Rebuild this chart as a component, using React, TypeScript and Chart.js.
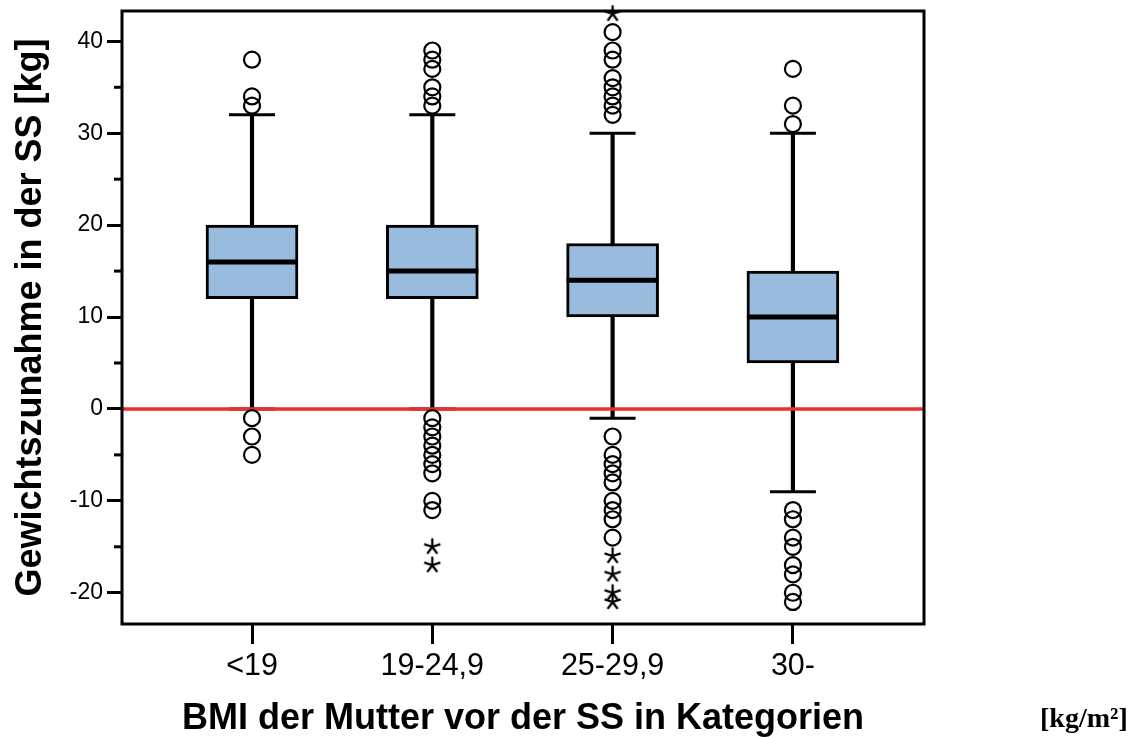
import React, { useEffect, useRef } from "react";
import { Chart, registerables } from "chart.js";

Chart.register(...registerables);

// ---- data ----
const categories = ["<19", "19-24,9", "25-29,9", "30-"];
const q1 = [12, 12, 10, 5];
const median = [16, 15, 14, 10];
const q3 = [20, 20, 18, 15];
const whiskerLow = [0, 0, -1, -9];
const whiskerHigh = [32, 32, 30, 30];

const outliersLt19 = [38, 34, 33, -1, -3, -5];
const outliers19to249 = [39, 38, 37, 35, 34, 33, -1, -2, -3, -4, -5, -6, -7, -10, -11];
const outliers25to299 = [41, 39, 38, 36, 35, 34, 33, 32, -3, -5, -6, -7, -8, -10, -11, -12, -14];
const outliers30plus = [37, 33, 31, -11, -12, -14, -15, -17, -18, -20, -21];

const extremesLt19: number[] = [];
const extremes19to249 = [-15, -17];
const extremes25to299 = [43, -16, -18, -20, -21];
const extremes30plus: number[] = [];

const yMajorTicks = [-20, -10, 0, 10, 20, 30, 40];
const yMinorTicks = [-15, -5, 5, 15, 25, 35];
const yMin = -23.4;
const yMax = 43.3;
const referenceValue = 0;

const yTitle = "Gewichtszunahme in der SS [kg]";
const xTitle = "BMI der Mutter vor der SS in Kategorien";
const unitLabel = "[kg/m²]";

const outlierGroups = [outliersLt19, outliers19to249, outliers25to299, outliers30plus];
const extremeGroups = [extremesLt19, extremes19to249, extremes25to299, extremes30plus];

const BOX_WIDTH = 92;
const CAP_WIDTH = 46;
const FONT = "'Liberation Sans', Arial, sans-serif";

function makeStar(): HTMLCanvasElement {
  const c = document.createElement("canvas");
  c.width = 20;
  c.height = 20;
  const g = c.getContext("2d")!;
  g.strokeStyle = "#000";
  g.lineWidth = 2.3;
  g.lineCap = "butt";
  g.beginPath();
  for (let k = 0; k < 5; k++) {
    const a = -Math.PI / 2 + (k * 2 * Math.PI) / 5;
    g.moveTo(10, 10);
    g.lineTo(10 + Math.cos(a) * 8.5, 10 + Math.sin(a) * 8.5);
  }
  g.stroke();
  return c;
}

const extrasPlugin = {
  id: "boxExtras",
  afterDatasetDraw(chart: any, args: any) {
    if (args.index !== 1) return;
    const { ctx, chartArea, scales } = chart;
    const x = scales.x;
    const y = scales.y;
    ctx.save();
    ctx.strokeStyle = "#000";
    // medians
    ctx.lineWidth = 5;
    categories.forEach((_, i) => {
      const cx = x.getPixelForValue(i + 1);
      const py = y.getPixelForValue(median[i]);
      ctx.beginPath();
      ctx.moveTo(cx - BOX_WIDTH / 2, py);
      ctx.lineTo(cx + BOX_WIDTH / 2, py);
      ctx.stroke();
    });
    // whisker caps
    ctx.lineWidth = 3;
    categories.forEach((_, i) => {
      const cx = x.getPixelForValue(i + 1);
      [whiskerLow[i], whiskerHigh[i]].forEach((v) => {
        const py = y.getPixelForValue(v);
        ctx.beginPath();
        ctx.moveTo(cx - CAP_WIDTH / 2, py);
        ctx.lineTo(cx + CAP_WIDTH / 2, py);
        ctx.stroke();
      });
    });
    // reference line
    const ry = y.getPixelForValue(referenceValue);
    ctx.strokeStyle = "#e8312e";
    ctx.lineWidth = 3.6;
    ctx.beginPath();
    ctx.moveTo(chartArea.left, ry);
    ctx.lineTo(chartArea.right, ry);
    ctx.stroke();
    ctx.restore();
  },
  afterDraw(chart: any) {
    const { ctx, chartArea, scales } = chart;
    ctx.save();
    ctx.strokeStyle = "#000";
    // minor y ticks
    ctx.lineWidth = 3;
    yMinorTicks.forEach((v) => {
      const py = scales.y.getPixelForValue(v);
      ctx.beginPath();
      ctx.moveTo(chartArea.left - 8, py);
      ctx.lineTo(chartArea.left, py);
      ctx.stroke();
    });
    // frame
    ctx.lineWidth = 3;
    ctx.strokeRect(chartArea.left, chartArea.top, chartArea.right - chartArea.left, chartArea.bottom - chartArea.top);
    ctx.restore();
  },
};

export default function App() {
  const ref = useRef<HTMLCanvasElement | null>(null);

  useEffect(() => {
    if (!ref.current) return;
    const star = makeStar();
    const datasets: any[] = [
      {
        type: "bar",
        label: "whiskers",
        data: categories.map((_, i) => ({ x: i + 1, y: [whiskerLow[i], whiskerHigh[i]] })),
        backgroundColor: "#000",
        borderWidth: 0,
        barThickness: 3.5,
        grouped: false,
        order: 3,
      },
      {
        type: "bar",
        label: "box",
        data: categories.map((_, i) => ({ x: i + 1, y: [q1[i], q3[i]] })),
        backgroundColor: "#99bbdd",
        borderColor: "#000",
        borderWidth: 3,
        borderSkipped: false,
        barThickness: BOX_WIDTH,
        grouped: false,
        order: 2,
      },
      {
        type: "line",
        label: "outliers",
        data: outlierGroups.flatMap((g, i) => g.map((v) => ({ x: i + 1, y: v }))),
        showLine: false,
        pointStyle: "circle",
        pointRadius: 8,
        pointBorderWidth: 2.2,
        pointBorderColor: "#000",
        pointBackgroundColor: "rgba(0,0,0,0)",
        clip: false,
        order: 1,
      },
      {
        type: "line",
        label: "extremes",
        data: extremeGroups.flatMap((g, i) => g.map((v) => ({ x: i + 1, y: v }))),
        showLine: false,
        pointStyle: star,
        pointRadius: 9,
        clip: false,
        order: 0,
      },
    ];

    const chart = new Chart(ref.current, {
      type: "bar",
      data: { datasets },
      plugins: [extrasPlugin],
      options: {
        animation: false,
        responsive: false,
        devicePixelRatio: 1,
        layout: { padding: { left: 0, right: 208, top: 11, bottom: 0 } },
        plugins: { legend: { display: false }, tooltip: { enabled: false } },
        scales: {
          x: {
            type: "linear",
            offset: false,
            min: 0.279,
            max: 4.727,
            afterBuildTicks: (s: any) => {
              s.ticks = categories.map((_, i) => ({ value: i + 1 }));
            },
            afterFit: (s: any) => {
              s.height = 113;
              s.paddingLeft = 0;
              s.paddingRight = 0;
            },
            ticks: {
              color: "#000",
              font: { family: FONT, size: 30.5 },
              padding: 4,
              maxRotation: 0,
              autoSkip: false,
              callback: (v: any) => categories[Number(v) - 1] ?? "",
            },
            grid: {
              offset: false,
              drawOnChartArea: false,
              drawTicks: true,
              tickLength: 20,
              tickWidth: 3,
              tickColor: "#000",
            },
            border: { display: false },
            title: {
              display: true,
              text: xTitle,
              color: "#000",
              font: { family: FONT, size: 36, weight: "bold", lineHeight: 1 },
              padding: { top: 0, bottom: 0 },
            },
          },
          y: {
            type: "linear",
            min: yMin,
            max: yMax,
            afterBuildTicks: (s: any) => {
              s.ticks = yMajorTicks.map((v) => ({ value: v }));
            },
            afterFit: (s: any) => {
              s.width = 122;
              s.paddingTop = 0;
              s.paddingBottom = 0;
            },
            ticks: {
              color: "#000",
              font: { family: FONT, size: 23 },
              padding: 4,
              autoSkip: false,
              callback: (v: any) => String(v),
            },
            grid: {
              drawOnChartArea: false,
              drawTicks: true,
              tickLength: 15,
              tickWidth: 3,
              tickColor: "#000",
            },
            border: { display: false },
            title: {
              display: true,
              text: yTitle,
              color: "#000",
              font: { family: FONT, size: 36, weight: "bold", lineHeight: 1 },
              padding: { top: 13, bottom: 0 },
            },
          },
        },
      } as any,
    });
    return () => chart.destroy();
  }, []);

  return (
    <div style={{ position: "fixed", left: 0, top: 0, width: 1132, height: 737, background: "#fff" }}>
      <canvas ref={ref} width={1132} height={737} style={{ display: "block" }} />
      <span
        style={{
          position: "absolute",
          left: 1040,
          top: 704,
          fontFamily: "'Liberation Serif', 'DejaVu Serif', serif",
          fontWeight: "bold",
          fontSize: 28,
          lineHeight: 1,
          color: "#000",
          whiteSpace: "nowrap",
        }}
      >
        {unitLabel}
      </span>
    </div>
  );
}
